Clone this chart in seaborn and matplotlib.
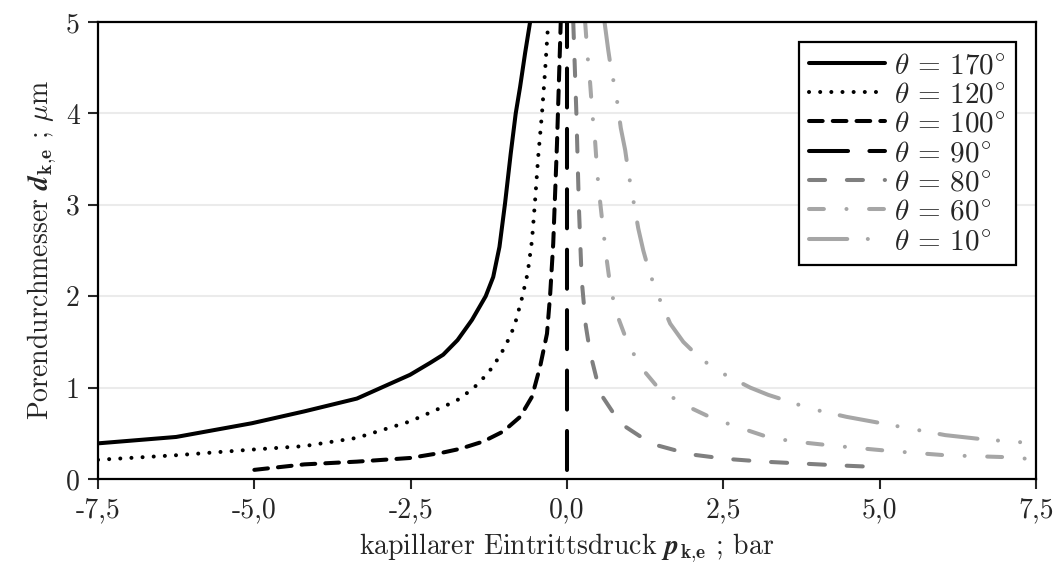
import matplotlib
matplotlib.use("Agg")
import matplotlib.pyplot as plt
import matplotlib.mathtext as mt
import seaborn as sns
import pandas as pd

# ---- data (p in bar, d in µm) ----
angles = [170, 120, 100, 90, 80, 60, 10]

p_170 = [-7.5, -6.25, -5.04, -4.2, -3.36, -2.51, -2.19, -1.98, -1.75, -1.52, -1.30, -1.18, -1.08, -0.99, -0.90, -0.82, -0.75, -0.67, -0.59]
d_170 = [0.39, 0.46, 0.61, 0.74, 0.88, 1.14, 1.27, 1.36, 1.52, 1.74, 2.00, 2.21, 2.54, 3.02, 3.56, 4.00, 4.29, 4.66, 5.0]

p_120 = [-7.5, -6.25, -5.07, -4.2, -3.36, -2.51, -1.98, -1.76, -1.50, -1.26, -1.07, -0.91, -0.83, -0.72, -0.63, -0.56, -0.51, -0.46, -0.40, -0.35, -0.30]
d_120 = [0.21, 0.26, 0.32, 0.36, 0.45, 0.63, 0.79, 0.86, 0.99, 1.16, 1.35, 1.56, 1.70, 1.98, 2.25, 2.61, 3.05, 3.53, 4.00, 4.47, 5.0]

p_100 = [-5.0, -4.2, -3.36, -2.51, -1.98, -1.71, -1.34, -1.02, -0.75, -0.56, -0.43, -0.32, -0.27, -0.22, -0.16, -0.10]
d_100 = [0.10, 0.16, 0.19, 0.23, 0.29, 0.33, 0.41, 0.52, 0.68, 0.90, 1.23, 1.59, 2.01, 2.58, 3.67, 5.0]

p_90 = [0.0, 0.0]
d_90 = [0.10, 5.0]

p_80 = [0.10, 0.15, 0.19, 0.235, 0.30, 0.37, 0.53, 0.85, 1.25, 1.38, 1.97, 2.55, 3.14, 3.73, 4.31, 5.0]
d_80 = [5.0, 4.00, 2.98, 2.18, 1.68, 1.38, 0.94, 0.61, 0.43, 0.38, 0.27, 0.22, 0.19, 0.17, 0.15, 0.13]

p_60 = [0.29, 0.33, 0.37, 0.405, 0.45, 0.485, 0.53, 0.58, 0.635, 0.70, 0.81, 0.98, 1.21, 1.43, 1.62, 1.91, 2.34, 2.79, 3.25, 3.70, 4.18, 4.63, 5.11, 5.57, 6.05, 6.50, 6.98, 7.5]
d_60 = [5.0, 4.62, 4.33, 4.00, 3.69, 3.34, 3.03, 2.72, 2.40, 2.07, 1.78, 1.47, 1.20, 1.02, 0.92, 0.80, 0.66, 0.555, 0.45, 0.405, 0.37, 0.34, 0.31, 0.285, 0.26, 0.25, 0.24, 0.215]

p_10 = [0.60, 0.66, 0.71, 0.78, 0.86, 0.93, 0.98, 1.04, 1.14, 1.22, 1.31, 1.43, 1.65, 1.86, 2.10, 2.39, 2.93, 3.22, 3.54, 3.89, 4.47, 5.11, 5.46, 6.05, 6.71, 7.5]
d_10 = [5.0, 4.69, 4.46, 4.24, 3.84, 3.60, 3.36, 3.13, 2.74, 2.50, 2.28, 2.05, 1.70, 1.50, 1.34, 1.19, 1.00, 0.92, 0.85, 0.77, 0.68, 0.60, 0.555, 0.48, 0.43, 0.39]

x_ticks = [-7.5, -5.0, -2.5, 0.0, 2.5, 5.0, 7.5]
x_ticklabels = ["-7,5", "-5,0", "-2,5", "0,0", "2,5", "5,0", "7,5"]
y_ticks = [0, 1, 2, 3, 4, 5]
y_ticklabels = ["0", "1", "2", "3", "4", "5"]

series_p = [p_170, p_120, p_100, p_90, p_80, p_60, p_10]
series_d = [d_170, d_120, d_100, d_90, d_80, d_60, d_10]

# ---- styles ----
colors = ["black", "black", "black", "black", "#7f7f7f", "#a6a6a6", "#a6a6a6"]
styles = [
    "-",
    (0, (0.01, 2.76)),
    (0, (3.4, 2.5)),
    (0, (9.7, 5.3)),
    (0, (4.0, 5.4)),
    (0, (3.7, 5.6, 0.01, 5.6)),
    (0, (9.5, 5.1, 0.01, 5.5, 0.01, 5.1)),
]
LW = 2.9

sns.set_style("white")
plt.rcParams["font.family"] = ["cmr10", "DejaVu Serif"]
plt.rcParams["mathtext.fontset"] = "cm"
plt.rcParams["axes.unicode_minus"] = False
plt.rcParams["axes.formatter.use_mathtext"] = True

fig = plt.figure(figsize=(10.62, 5.72), dpi=100)
ax = fig.add_axes([98 / 1062, 1 - 479 / 572, (1036 - 98) / 1062, (479 - 22) / 572])

for ang, pp, dd, c, ls in zip(angles, series_p, series_d, colors, styles):
    df = pd.DataFrame({"p": pp, "d": dd})
    sns.lineplot(data=df, x="p", y="d", ax=ax, sort=False, estimator=None,
                 color=c, linewidth=LW, linestyle=ls,
                 solid_capstyle="round", dash_capstyle="round",
                 label=r"$\theta$ = %d$^{\circ}$" % ang)

ax.set_xlim(-7.5, 7.5)
ax.set_ylim(0, 5)
ax.set_xticks(x_ticks)
ax.set_xticklabels(x_ticklabels)
ax.set_yticks(y_ticks)
ax.set_yticklabels(y_ticklabels)
ax.tick_params(axis="both", direction="out", length=7, width=1.5, labelsize=20,
               bottom=True, left=True, top=False, right=False, pad=6)
ax.yaxis.grid(True, color="#ebebeb", linewidth=1.5)
ax.xaxis.grid(False)
ax.set_axisbelow(True)
for s in ax.spines.values():
    s.set_color("black")
    s.set_linewidth(1.6)


def ok(s):
    try:
        mt.MathTextParser("path").parse(s, dpi=100)
        return True
    except Exception:
        return False


sym_d = r"$\mathbfit{d}_{\mathbf{k{,}e}}$"
sym_p = r"$\mathbfit{p}_{\mathbf{k{,}e}}$"
if not ok(sym_d):
    sym_d = r"$\mathbf{d}_{\mathbf{k{,}e}}$"
    sym_p = r"$\mathbf{p}_{\mathbf{k{,}e}}$"

ax.set_xlabel("kapillarer Eintrittsdruck " + sym_p + " ; bar", fontsize=20, labelpad=6)
ax.set_ylabel("Porendurchmesser " + sym_d + r" ; $\mu$m", fontsize=20, labelpad=5)

leg = ax.legend(loc="upper right", fontsize=21, frameon=True, fancybox=False,
                edgecolor="black", framealpha=1, handlelength=2.6,
                handletextpad=0.3, labelspacing=0.1, borderpad=0.35,
                borderaxespad=0.7)
leg.get_frame().set_linewidth(1.6)

fig.savefig("out.png", dpi=100)
